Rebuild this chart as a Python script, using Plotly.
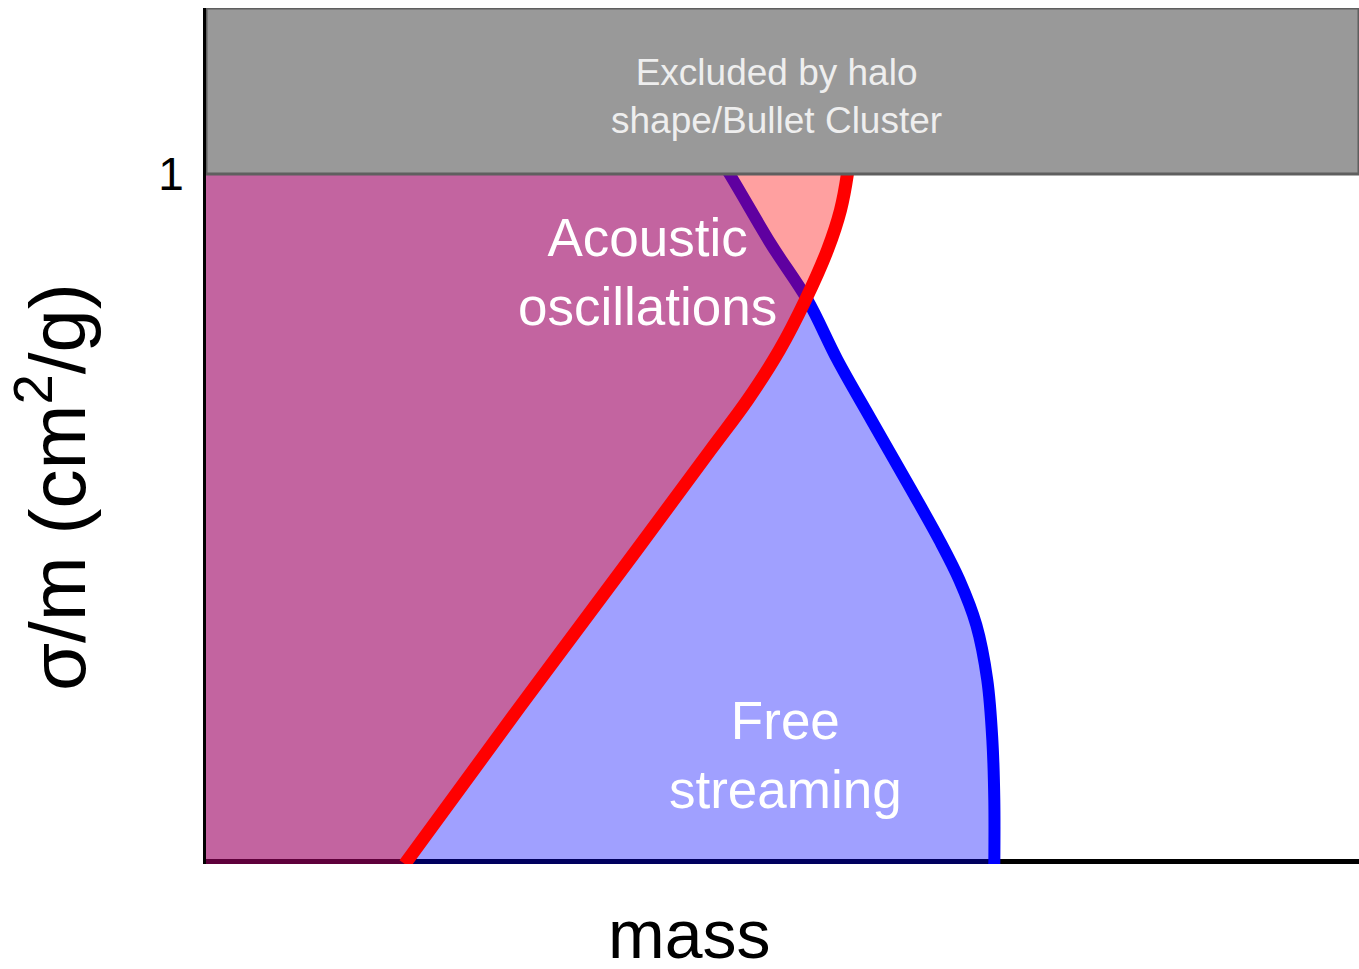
import plotly.graph_objects as go

# ---- data (schematic, in axis units: x = mass as fraction of plot width, y = sigma/m in cm^2/g) ----
red_x = [0.1724, 0.2721, 0.3735, 0.4376, 0.4697, 0.4974, 0.5199, 0.5390, 0.5503, 0.5563, 0.5633, 0.5685]
red_y = [0.0, 0.2275, 0.4551, 0.6000, 0.6725, 0.7449, 0.8174, 0.8899, 0.9478, 1.0, 1.1072, 1.2406]

blue_x = [0.6837, 0.6837, 0.6820, 0.6776, 0.6681, 0.6534, 0.6360, 0.6118, 0.5771, 0.5477, 0.5217, 0.4905, 0.4541, 0.3657]
blue_y = [0.0, 0.0928, 0.1797, 0.2667, 0.3464, 0.4116, 0.4696, 0.5420, 0.6435, 0.7304, 0.8174, 0.8971, 1.0, 1.2406]

excl_limit = 1.0
y_top = 1.2406
x_max = 1.0

y_tickvals = [1]
y_ticktext = ["1"]

FONT = "Liberation Sans, Arial, sans-serif"

fig = go.Figure()

# bottom axis line drawn below the fills
fig.add_trace(go.Scatter(x=[0, x_max], y=[0, 0], mode="lines",
                         line=dict(color="black", width=10), hoverinfo="skip"))

# free streaming region
fig.add_trace(go.Scatter(x=blue_x, y=blue_y, mode="lines", fill="tozerox",
                         fillcolor="rgba(0,0,255,0.373)",
                         line=dict(color="#0000ff", width=12, shape="spline", smoothing=1.0),
                         hoverinfo="skip"))

# acoustic oscillations region
fig.add_trace(go.Scatter(x=red_x, y=red_y, mode="lines", fill="tozerox",
                         fillcolor="rgba(255,0,0,0.373)",
                         line=dict(color="#ff0000", width=13, shape="spline", smoothing=1.0),
                         hoverinfo="skip"))

# excluded band
fig.add_trace(go.Scatter(x=[0, x_max, x_max, 0, 0],
                         y=[excl_limit, excl_limit, y_top, y_top, excl_limit],
                         mode="lines", fill="toself", fillcolor="#999999",
                         line=dict(color="#5f5f5f", width=3), hoverinfo="skip"))

annotations = [
    dict(x=0.495, y=1.112, xref="x", yref="y", text="Excluded by halo<br>shape/Bullet Cluster",
         showarrow=False, font=dict(family=FONT, size=37, color="#eeeeee"), align="center"),
    dict(x=0.383, y=0.858, xref="x", yref="y", text="Acoustic<br>oscillations",
         showarrow=False, font=dict(family=FONT, size=53, color="white"), align="center"),
    dict(x=0.503, y=0.158, xref="x", yref="y", text="Free<br>streaming",
         showarrow=False, font=dict(family=FONT, size=53, color="white"), align="center"),
    dict(x=0.419, y=0, xref="paper", yref="paper", yanchor="middle", yshift=-70,
         height=66, valign="middle",
         text="mass", showarrow=False, font=dict(family=FONT, size=68, color="black")),
    dict(x=0, y=0.4404, xref="paper", yref="paper", xanchor="center", xshift=-154,
         text="σ/m (cm<sup>2</sup>/g)", textangle=-90, showarrow=False,
         font=dict(family=FONT, size=78, color="black")),
]

fig.update_layout(
    width=1359, height=969,
    margin=dict(l=206, r=0, t=8, b=105, pad=0),
    paper_bgcolor="white", plot_bgcolor="white",
    showlegend=False,
    annotations=annotations,
    xaxis=dict(range=[0, x_max], showgrid=False, zeroline=False, showticklabels=False,
               ticks="", showline=False, fixedrange=True),
    yaxis=dict(range=[0, y_top], showgrid=False, zeroline=False,
               tickvals=y_tickvals, ticktext=y_ticktext, ticks="",
               tickfont=dict(family=FONT, size=46, color="black"),
               showline=True, linecolor="black", linewidth=3, layer="above traces",
               ticklabelstandoff=10, fixedrange=True),
)

fig.write_html("out.html", config={"displayModeBar": False},
               post_script="document.body.style.margin='0px';document.body.style.padding='0px';document.body.style.overflow='hidden';")
